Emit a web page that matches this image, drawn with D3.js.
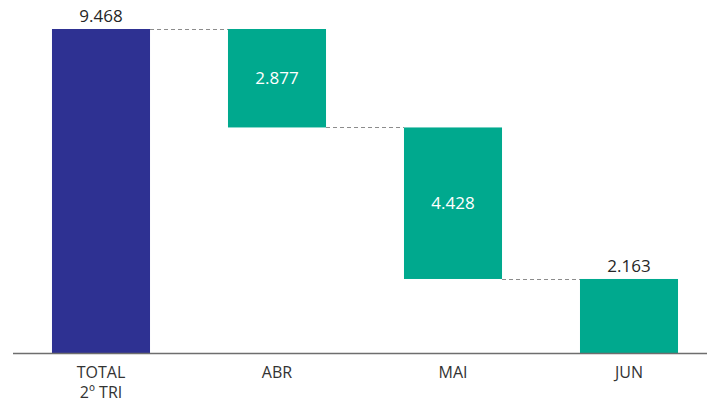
<!DOCTYPE html>
<html><head><meta charset="utf-8">
<script src="https://cdn.jsdelivr.net/npm/d3@7"></script>
<style>body{margin:0;background:#fff}svg{display:block}</style>
</head><body>
<svg id="c" width="707" height="403"></svg>
<script>
const categories = ["TOTAL\n2º TRI", "ABR", "MAI", "JUN"];
const values = [9.468, 2.877, 4.428, 2.163];
const kinds = ["total", "step", "step", "step"];
const valueLabels = ["9.468", "2.877", "4.428", "2.163"];

const svg = d3.select("#c");
const baseY = 353;
const x = d3.scaleBand().domain(categories).range([13, 717]).paddingInner(0.443).paddingOuter(0.2215);
const y = d3.scaleLinear().domain([0, 9.468]).range([baseY, 29]);

// compute waterfall segments
let running = 0;
const segs = categories.map((c, i) => {
  let top, bottom;
  if (kinds[i] === "total") { bottom = 0; top = values[i]; running = values[i]; }
  else { top = running; bottom = running - values[i]; running = bottom; }
  return { c, top, bottom, kind: kinds[i], label: valueLabels[i], i };
});

// connectors
const conns = segs.slice(0, -1).map((s, i) => ({ from: s, to: segs[i + 1], level: s.kind === "total" ? s.top : s.bottom }));
svg.append("g").selectAll("line").data(conns).join("line")
  .attr("x1", d => x(d.from.c) + x.bandwidth())
  .attr("x2", d => x(d.to.c))
  .attr("y1", d => Math.round(y(d.level)) + 0.5)
  .attr("y2", d => Math.round(y(d.level)) + 0.5)
  .attr("stroke", "#8c8c8c").attr("stroke-width", 1).attr("stroke-dasharray", "4,3");

// bars
svg.append("g").selectAll("rect").data(segs).join("rect")
  .attr("x", d => x(d.c))
  .attr("width", x.bandwidth())
  .attr("y", d => y(d.top))
  .attr("height", d => y(d.bottom) - y(d.top))
  .attr("fill", d => d.kind === "total" ? "#2e3192" : "#00a98e");

// value labels
svg.append("g").selectAll("text").data(segs).join("text")
  .attr("x", d => x(d.c) + x.bandwidth() / 2)
  .attr("y", d => {
    const h = y(d.bottom) - y(d.top);
    return (d.kind === "total" || d.i === segs.length - 1) ? y(d.top) - 7 : y(d.top) + h / 2 + 6;
  })
  .attr("text-anchor", "middle")
  .attr("font-family", "Open Sans, sans-serif")
  .attr("font-size", 17)
  .attr("fill", d => (d.kind === "total" || d.i === segs.length - 1) ? "#262626" : "#ffffff")
  .text(d => d.label);

// axis baseline
svg.append("line").attr("x1", 13).attr("x2", 707).attr("y1", baseY + 0.5).attr("y2", baseY + 0.5)
  .attr("stroke", "#6e6e6e").attr("stroke-width", 1.5);

// category labels
const cl = svg.append("g").selectAll("text").data(categories).join("text")
  .attr("x", d => x(d) + x.bandwidth() / 2)
  .attr("y", 378)
  .attr("text-anchor", "middle")
  .attr("font-family", "Open Sans, sans-serif")
  .attr("font-size", 16)
  .attr("fill", "#333");
cl.selectAll("tspan").data(d => d.split("\n")).join("tspan")
  .attr("x", function () { return d3.select(this.parentNode).attr("x"); })
  .attr("dy", (d, i) => i === 0 ? 0 : 20)
  .text(d => d);
</script>
</body></html>
